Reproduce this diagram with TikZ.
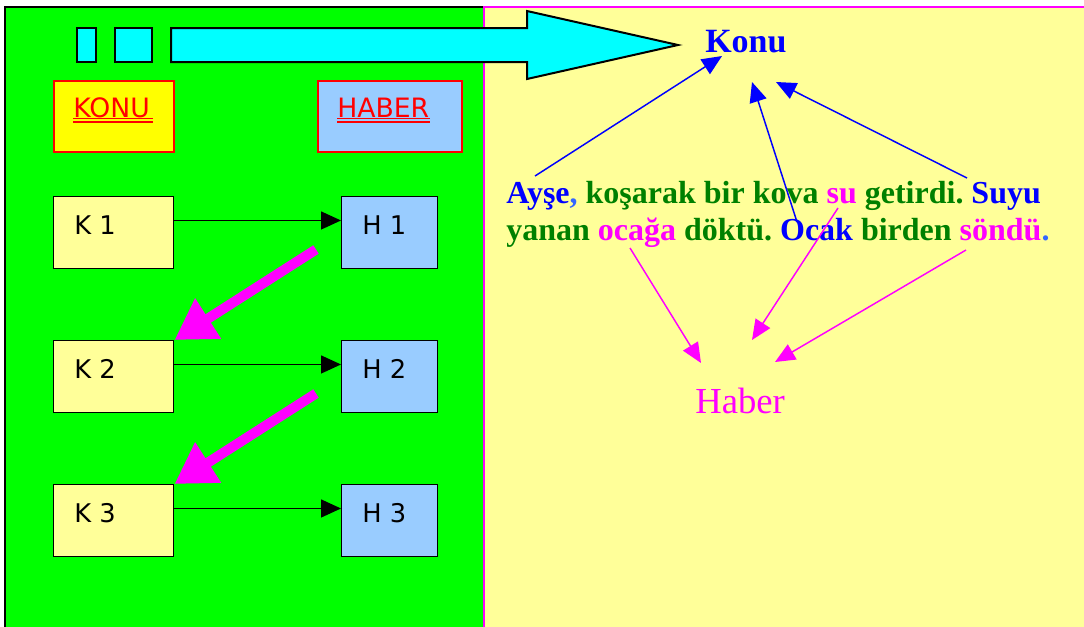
\documentclass[tikz,border=0pt]{standalone}
\usepackage{fontspec}
\setmainfont{Liberation Serif}
\newfontfamily\verd{DejaVu Sans}
\usetikzlibrary{arrows.meta,calc}
\definecolor{pgreen}{HTML}{00FF00}
\definecolor{pyellow}{HTML}{FFFF99}
\definecolor{hblue}{HTML}{99CCFF}
\definecolor{kyellow}{HTML}{FFFF00}
\definecolor{cyanx}{HTML}{00FFFF}
\definecolor{magx}{HTML}{FF00FF}
\definecolor{tgreen}{HTML}{008000}
\definecolor{tblue}{HTML}{0000FF}
\definecolor{lblue}{HTML}{3366FF}
\definecolor{redx}{HTML}{FF0000}
\tikzset{
  kbox/.style={draw=black, line width=1.1pt, fill=pyellow, minimum width=90pt, minimum height=54pt, inner sep=0pt, anchor=north west},
  hbox/.style={draw=black, line width=1.1pt, fill=hblue, minimum width=72pt, minimum height=54pt, inner sep=0pt, anchor=north west},
  boxtext/.style={font=\verd\fontsize{19.3}{23}\selectfont, anchor=base west, inner sep=0pt},
  titlebox/.style={draw=redx, line width=1.4pt, minimum height=53.25pt, inner sep=0pt, anchor=north west},
  titletext/.style={font=\verd\fontsize{20}{24}\selectfont, text=redx, anchor=base west, inner sep=0pt},
  blkarrow/.style={draw=black, line width=1.1pt, -{Triangle[length=15pt,width=13.5pt]}},
  fatarrow/.style={draw=magx, line width=7.5pt, -{Triangle[length=30pt,width=34pt]}},
  bluearrow/.style={draw=tblue, line width=1.1pt, -{Triangle[length=15pt,width=13pt]}},
  magarrow/.style={draw=magx, line width=1.1pt, -{Triangle[length=15pt,width=13pt]}},
  sent/.style={font=\frenchspacing\bfseries\fontsize{24}{28}\selectfont, anchor=base west, inner sep=0pt},
}
\begin{document}
\frenchspacing
\begin{tikzpicture}[x=0.75pt,y=-0.75pt]
\useasboundingbox (0,0) rectangle (1084,626);
\fill[white] (0,0) rectangle (1084,626);
% panels
\fill[pgreen] (5,7) rectangle (484,640);
\draw[black, line width=1.5pt] (5,640) -- (5,7) -- (484,7);
\fill[pyellow] (484,7) rectangle (1090,640);
\draw[magx, line width=1.2pt] (484,640) -- (484,7) -- (1090,7);
% cyan shapes
\filldraw[fill=cyanx, draw=black, line width=1.5pt] (77,28) rectangle (96,62);
\filldraw[fill=cyanx, draw=black, line width=1.5pt] (115,28) rectangle (152,62);
\filldraw[fill=cyanx, draw=black, line width=1.5pt, line join=miter]
  (171,28) -- (527,28) -- (527,11) -- (678,45) -- (527,79) -- (527,62) -- (171,62) -- cycle;
% title boxes
\node[titlebox, fill=kyellow, minimum width=90pt] (konubox) at (53,80) {};
\node[titlebox, fill=hblue, minimum width=108pt] (haberbox) at (317,80) {};
\node[titletext] (konut) at (73,117) {KONU};
\node[titletext] (habert) at (337,117) {HABER};
\draw[redx, line width=0.8pt] (konut.base west) ++(0,1.5) -- ++(80,0);
\draw[redx, line width=0.8pt] (konut.base west) ++(0,5) -- ++(80,0);
\draw[redx, line width=0.8pt] (habert.base west) ++(0,1.5) -- ++(93,0);
\draw[redx, line width=0.8pt] (habert.base west) ++(0,5) -- ++(93,0);
% K and H boxes
\node[kbox] (k1) at (53,196) {};
\node[kbox] (k2) at (53,340) {};
\node[kbox] (k3) at (53,484) {};
\node[hbox] (h1) at (341,196) {};
\node[hbox] (h2) at (341,340) {};
\node[hbox] (h3) at (341,484) {};
\node[boxtext] (k1t) at (74,234) {K 1};
\node[boxtext] (k2t) at (74,378) {K 2};
\node[boxtext] (k3t) at (74,522) {K 3};
\node[boxtext] (h1t) at (362,234) {H 1};
\node[boxtext] (h2t) at (362,378) {H 2};
\node[boxtext] (h3t) at (362,522) {H 3};
\foreach \i in {1,2,3}{
  \draw[blkarrow] ($(k\i.north east)!.333!(k\i.south east)$) -- ($(h\i.north west)!.333!(h\i.south west)$);
}
\draw[fatarrow] ([shift={(-25,-20)}]h1.south west) -- (k2.north east);
\draw[fatarrow] ([shift={(-25,-20)}]h2.south west) -- (k3.north east);
% right side texts
\node[font=\bfseries\fontsize{25.5}{30}\selectfont, text=tblue, anchor=base west, inner sep=0pt] (konu) at (705,52) {Konu};
\node[font=\fontsize{27.5}{32}\selectfont, text=magx, anchor=base west, inner sep=0pt] (haber) at (695,413) {Haber};
\node[sent] (s1) at (506,203) {{\color{tblue}Ayşe}{\color{lblue},} {\color{tgreen}koşarak bir kova} {\color{magx}su} {\color{tgreen}getirdi.} {\color{tblue}Suyu}};
\node[sent] (s2) at (506,240) {{\color{tgreen}yanan} {\color{magx}ocağa} {\color{tgreen}döktü.} {\color{tblue}Ocak} {\color{tgreen}birden} {\color{magx}söndü}{\color{lblue}.}};
% arrow end coordinates
\coordinate (ayse) at (535,176);
\coordinate (ocak) at (797,222);
\coordinate (suyu) at (967,178);
\coordinate (konuA) at (722,56);
\coordinate (konuB) at (752,82);
\coordinate (konuC) at (776,82);
\coordinate (ocaga) at (630,248);
\coordinate (su) at (838,208);
\coordinate (sondu) at (966,250);
\coordinate (haberA) at (701,363);
\coordinate (haberB) at (752,340);
\coordinate (haberC) at (775,362);
\draw[bluearrow] (ayse) -- (konuA);
\draw[bluearrow] (ocak) -- (konuB);
\draw[bluearrow] (suyu) -- (konuC);
\draw[magarrow] (ocaga) -- (haberA);
\draw[magarrow] (su) -- (haberB);
\draw[magarrow] (sondu) -- (haberC);
\end{tikzpicture}
\end{document}
